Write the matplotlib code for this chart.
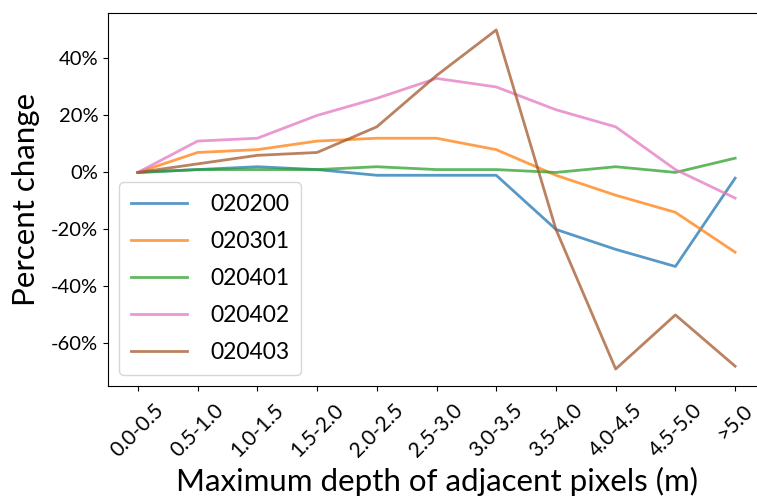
import matplotlib
matplotlib.use("Agg")
import matplotlib.pyplot as plt
from matplotlib.ticker import FuncFormatter

plt.rcParams['font.family'] = ['Lato', 'DejaVu Sans']

# ----- Daten -----
depth_bins = ["0.0-0.5", "0.5-1.0", "1.0-1.5", "1.5-2.0", "2.0-2.5", "2.5-3.0",
              "3.0-3.5", "3.5-4.0", "4.0-4.5", "4.5-5.0", ">5.0"]

s020200 = [0, 1, 2, 1, -1, -1, -1, -20, -27, -33, -2]
s020301 = [0, 7, 8, 11, 12, 12, 8, -1, -8, -14, -28]
s020401 = [0, 1, 1, 1, 2, 1, 1, 0, 2, 0, 5]
s020402 = [0, 11, 12, 20, 26, 33, 30, 22, 16, 1, -9]
s020403 = [0, 3, 6, 7, 16, 34, 50, -20, -69, -50, -68]

series = {
    "020200": s020200,
    "020301": s020301,
    "020401": s020401,
    "020402": s020402,
    "020403": s020403,
}
colors = ["tab:blue", "tab:orange", "tab:green", "tab:pink", "#a4582c"]

fig = plt.figure(figsize=(7.57, 4.99), dpi=100)
# rechter Rand liegt ausserhalb des Bildes (wie im Original abgeschnitten)
ax = fig.add_axes([108 / 757, 113 / 499, 657 / 757, 373 / 499])

x = range(len(depth_bins))
for (name, vals), c in zip(series.items(), colors):
    ax.plot(x, vals, color=c, alpha=0.75, linewidth=2, label=name)

ax.set_xticks(list(x))
ax.set_xticklabels(depth_bins, rotation=45, fontsize=15)
ax.tick_params(axis="x", pad=7)
ax.yaxis.set_major_formatter(FuncFormatter(lambda v, p: f"{v:.0f}%"))
ax.set_yticks([-60, -40, -20, 0, 20, 40])
ax.tick_params(axis="y", labelsize=14.5)
ax.set_xlabel("Maximum depth of adjacent pixels (m)", fontsize=22.5, labelpad=4)
ax.set_ylabel("Percent change", fontsize=22.5, labelpad=8)
ax.legend(loc="lower left", fontsize=16.5, labelspacing=0.7,
          handlelength=2.45, handletextpad=1.0, borderpad=0.5)

fig.savefig("out.png", dpi=100)
